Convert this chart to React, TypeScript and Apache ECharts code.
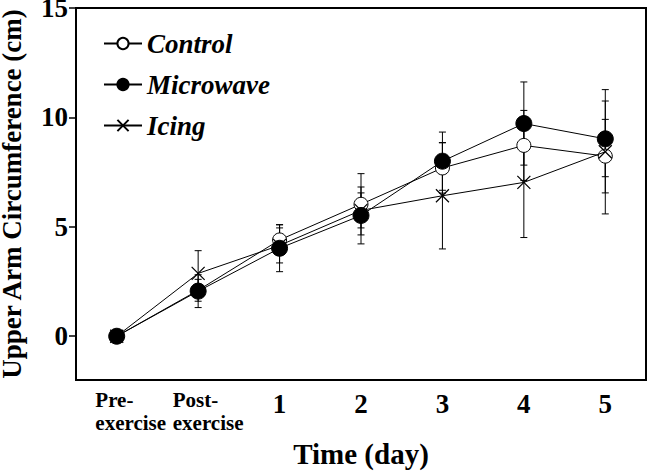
import React, { useEffect, useRef } from "react";
import * as echarts from "echarts";

const categories = ["Pre-\nexercise", "Post-\nexercise", "1", "2", "3", "4", "5"];
const seriesNames = ["Control", "Microwave", "Icing"];
const controlMean = [0, 2.1, 4.4, 6.03, 7.69, 8.72, 8.23];
const microwaveMean = [0, 2.06, 4.02, 5.52, 8.0, 9.72, 9.02];
const icingMean = [0, 2.87, 4.15, 5.75, 6.42, 7.03, 8.43];
const controlSD = [0, 0.5, 0.7, 1.4, 1.15, 1.6, 1.68];
const microwaveSD = [0, 0.75, 1.07, 1.3, 1.33, 1.9, 1.73];
const icingSD = [0, 1.04, 0.8, 0.8, 2.43, 2.52, 2.84];
const yTicks = [0, 5, 10, 15];

const FONT = "'Liberation Serif', 'Times New Roman', serif";

function errData(mean: number[], sd: number[]) {
  const out: number[][] = [];
  mean.forEach((m, i) => {
    if (sd[i] > 0) out.push([i, m - sd[i], m + sd[i]]);
  });
  return out;
}

function errSeries(mean: number[], sd: number[]) {
  return {
    type: "custom",
    z: 1,
    silent: true,
    data: errData(mean, sd),
    renderItem: (params: any, api: any) => {
      const x = api.value(0);
      const lo = api.coord([x, api.value(1)]);
      const hi = api.coord([x, api.value(2)]);
      const w = 3.5;
      const st = { stroke: "#000", lineWidth: 1 };
      return {
        type: "group",
        children: [
          { type: "line", shape: { x1: lo[0], y1: lo[1], x2: hi[0], y2: hi[1] }, style: st },
          { type: "line", shape: { x1: lo[0] - w, y1: lo[1], x2: lo[0] + w, y2: lo[1] }, style: st },
          { type: "line", shape: { x1: hi[0] - w, y1: hi[1], x2: hi[0] + w, y2: hi[1] }, style: st },
        ],
      };
    },
  };
}

export default function App() {
  const ref = useRef<HTMLDivElement>(null);
  useEffect(() => {
    if (!ref.current) return;
    const chart = echarts.init(ref.current, null, { renderer: "svg" });
    const labelMap: Record<string, string> = {
      "Pre-\nexercise": "{a|Pre-}\n{a|exercise}",
      "Post-\nexercise": "{b|Post-}\n{b|exercise}",
    };
    chart.setOption({
      animation: false,
      backgroundColor: "#fff",
      grid: {
        left: 76,
        top: 8,
        right: 4,
        bottom: 91,
        show: true,
        borderColor: "#000",
        borderWidth: 2,
        containLabel: false,
        outerBoundsMode: "none",
      },
      legend: {
        orient: "vertical",
        left: 98,
        top: 25,
        itemWidth: 38,
        itemHeight: 14,
        itemGap: 14,
        data: seriesNames,
        textStyle: {
          fontFamily: FONT,
          fontStyle: "italic",
          fontWeight: "bold",
          fontSize: 27,
          color: "#000",
        },
      },
      xAxis: {
        type: "category",
        data: categories,
        boundaryGap: true,
        name: "Time (day)",
        nameLocation: "middle",
        nameGap: 59,
        nameTextStyle: { fontFamily: FONT, fontWeight: "bold", fontSize: 29, color: "#000" },
        axisLine: { onZero: false, lineStyle: { color: "#000", width: 2 } },
        axisTick: { alignWithLabel: true, length: 5, lineStyle: { color: "#000", width: 1.5 } },
        axisLabel: {
          interval: 0,
          margin: 8,
          color: "#000",
          fontFamily: FONT,
          fontWeight: "bold",
          fontSize: 27,
          formatter: (v: string) => labelMap[v] ?? `{d|${v}}`,
          rich: {
            a: { fontFamily: FONT, fontWeight: "bold", fontSize: 21, lineHeight: 23, align: "left", padding: [0, 0, 0, 28], color: "#000" },
            b: { fontFamily: FONT, fontWeight: "bold", fontSize: 21, lineHeight: 23, align: "left", padding: [0, 0, 0, 20], color: "#000" },
            d: { fontFamily: FONT, fontWeight: "bold", fontSize: 27, lineHeight: 27, padding: [4, 0, 0, 0], color: "#000" },
          },
        },
        splitLine: { show: false },
      },
      yAxis: {
        type: "value",
        min: -2,
        max: 15,
        name: "Upper Arm Circumference (cm)",
        nameLocation: "middle",
        nameGap: 51,
        nameTextStyle: { fontFamily: FONT, fontWeight: "bold", fontSize: 27, color: "#000" },
        axisLine: { show: true, lineStyle: { color: "#000", width: 2 } },
        axisTick: { show: true, length: 7, customValues: yTicks, lineStyle: { color: "#000", width: 1.5 } },
        axisLabel: {
          customValues: yTicks,
          margin: 8,
          color: "#000",
          fontFamily: FONT,
          fontWeight: "bold",
          fontSize: 27,
          padding: [5, 0, 0, 0],
        },
        splitLine: { show: false },
      },
      series: [
        errSeries(controlMean, controlSD),
        errSeries(microwaveMean, microwaveSD),
        errSeries(icingMean, icingSD),
        {
          name: "Control",
          type: "line",
          z: 3,
          data: controlMean,
          symbol: "circle",
          symbolSize: 14,
          lineStyle: { color: "#000", width: 1 },
          itemStyle: { color: "#fff", borderColor: "#000", borderWidth: 1 },
        },
        {
          name: "Microwave",
          type: "line",
          z: 4,
          data: microwaveMean,
          symbol: "circle",
          symbolSize: 16,
          lineStyle: { color: "#000", width: 1 },
          itemStyle: { color: "#000", borderColor: "#000", borderWidth: 1 },
        },
        {
          name: "Icing",
          type: "line",
          z: 5,
          data: icingMean,
          symbol: "path://M0,0L10,10M10,0L0,10",
          symbolSize: 13,
          lineStyle: { color: "#000", width: 1 },
          itemStyle: { color: "none", borderColor: "#000", borderWidth: 1.2 },
        },
      ],
    });
    return () => chart.dispose();
  }, []);
  return <div ref={ref} style={{ width: 650, height: 471, position: "absolute", left: 0, top: 0 }} />;
}
